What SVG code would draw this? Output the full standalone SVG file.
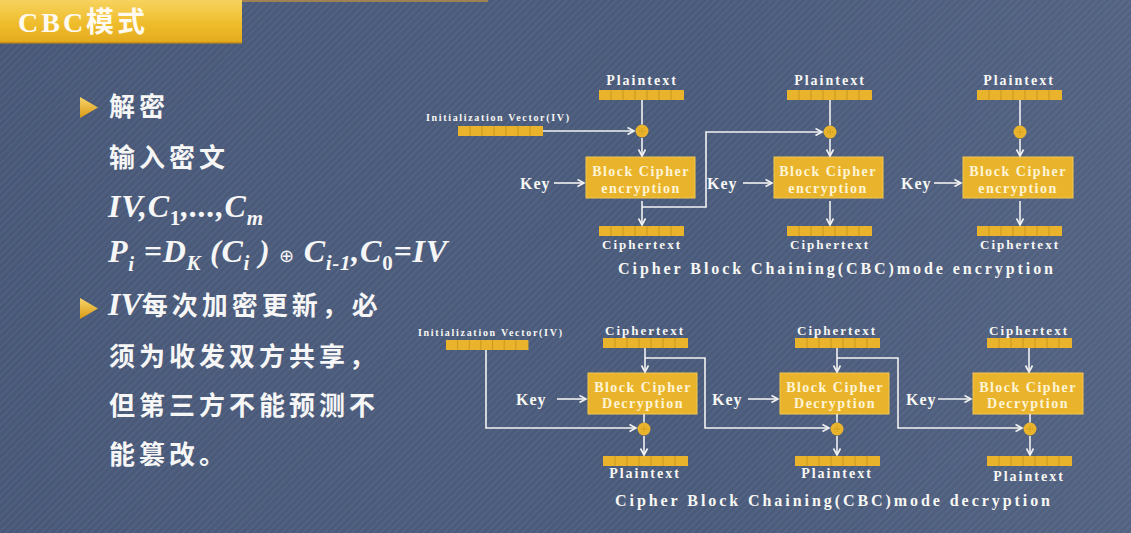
<svg xmlns="http://www.w3.org/2000/svg" xmlns:xlink="http://www.w3.org/1999/xlink" width="1131" height="533" viewBox="0 0 1131 533">
  <defs>
    <pattern id="stripes" width="5" height="5" patternUnits="userSpaceOnUse" patternTransform="rotate(45)">
      <rect width="5" height="5" fill="#4a5a79"/>
      <rect width="1.6" height="5" fill="#526386"/>
    </pattern>
    <linearGradient id="shade" x1="0" y1="0" x2="1" y2="0">
      <stop offset="0" stop-color="#000" stop-opacity="0.03"/>
      <stop offset="0.6" stop-color="#fff" stop-opacity="0"/>
      <stop offset="1" stop-color="#fff" stop-opacity="0.05"/>
    </linearGradient>
    <linearGradient id="header" x1="0" y1="0" x2="0" y2="1">
      <stop offset="0" stop-color="#f6d35e"/>
      <stop offset="0.55" stop-color="#efbd2c"/>
      <stop offset="1" stop-color="#e3a91c"/>
    </linearGradient>
    <linearGradient id="tri" x1="0" y1="0" x2="0" y2="1">
      <stop offset="0" stop-color="#f8d56a"/>
      <stop offset="1" stop-color="#d99a16"/>
    </linearGradient>
    <marker id="ah" markerUnits="userSpaceOnUse" markerWidth="10" markerHeight="10" refX="8" refY="5" orient="auto">
      <path d="M1.5,1.5 L8,5 L1.5,8.5" fill="none" stroke="#f2f2f2" stroke-width="1.6"/>
    </marker>
    <!-- segmented data block -->
    <g id="bar">
      <rect x="0" y="0" width="85" height="10" fill="#e9b42b"/>
      <path d="M12,0V10M24,0V10M36,0V10M48,0V10M60,0V10M72,0V10" stroke="#c9961f" stroke-width="1"/>
    </g>
    <!-- XOR junction -->
    <g id="xor">
      <circle r="6.5" fill="#e9b42b"/>
      <path d="M-3,0H3M0,-3V3" stroke="#c9961f" stroke-width="1" stroke-dasharray="1.5 1"/>
    </g>
    <style>
      .diag { font-family: "Liberation Serif", "DejaVu Serif", serif; font-weight: bold; fill: #f7f7f3; }
      .lbl { font-size: 14px; letter-spacing: 2px; text-anchor: middle; }
      .key { font-size: 16px; letter-spacing: 1px; }
      .iv { font-size: 10px; }
      .boxt { font-size: 14px; letter-spacing: 1.5px; text-anchor: middle; fill: #fff4d6; }
      .title { font-size: 16px; }
      .box { fill: #e9b42b; stroke: #f2c850; stroke-width: 1; }
      .ln { fill: none; stroke: #f2f2f2; stroke-width: 1.6; }
      .arr { marker-end: url(#ah); }
      .cjk { font-family: "Noto Sans CJK SC", "Noto Sans", sans-serif; font-weight: bold; font-size: 26px; letter-spacing: 4px; fill: #f6f6f6; }
      .math { font-family: "Liberation Serif", "DejaVu Serif", serif; font-weight: bold; font-style: italic; font-size: 32px; fill: #f6f6f6; }
      .sub { font-size: 21px; }
      .up { font-style: normal; }
      .op { font-family: "DejaVu Sans", sans-serif; font-weight: normal; font-style: normal; font-size: 18px; }
    </style>
  </defs>

  <!-- background -->
  <rect width="1131" height="533" fill="url(#stripes)"/>
  <rect width="1131" height="533" fill="url(#shade)"/>

  <!-- title bar -->
  <g id="header">
    <rect x="0" y="0" width="242" height="43" fill="url(#header)"/>
    <rect x="0" y="42" width="242" height="1.5" fill="#c98e16"/>
    <rect x="242" y="0" width="246" height="2" fill="#9e8254"/>
    <text x="18" y="32" font-family="Liberation Serif, Noto Sans CJK SC, serif" font-weight="bold" font-size="28" letter-spacing="3" fill="#fffaf0">CBC模式</text>
  </g>

  <!-- bullet text -->
  <g id="notes">
    <polygon points="80,97 98,107.5 80,118" fill="url(#tri)"/>
    <text class="cjk" x="109" y="116">解密</text>
    <text class="cjk" x="109" y="167">输入密文</text>
    <text class="math" x="108" y="217" textLength="155" lengthAdjust="spacing">IV,C<tspan class="sub up" dy="8">1</tspan><tspan dy="-8">,...,C</tspan><tspan class="sub" dy="8">m</tspan></text>
    <text class="math" x="108" y="262" textLength="339" lengthAdjust="spacing">P<tspan class="sub" dy="9">i</tspan><tspan dy="-9"> =D</tspan><tspan class="sub" dy="8">K</tspan><tspan dy="-8"> (C</tspan><tspan class="sub" dy="8">i</tspan><tspan dy="-8"> ) </tspan><tspan class="op">⊕</tspan><tspan> C</tspan><tspan class="sub" dy="8">i-1</tspan><tspan dy="-8">,C</tspan><tspan class="sub up" dy="8">0</tspan><tspan dy="-8">=IV</tspan></text>
    <polygon points="80,298 98,308.5 80,319" fill="url(#tri)"/>
    <text x="108" y="315"><tspan class="math" font-size="30">IV</tspan><tspan class="cjk">每次加密更新，必</tspan></text>
    <text class="cjk" x="109" y="366">须为收发双方共享，</text>
    <text class="cjk" x="109" y="415">但第三方不能预测不</text>
    <text class="cjk" x="109" y="464">能篡改。</text>
  </g>

  <!-- ===== CBC encryption ===== -->
  <g id="enc-iv" class="diag">
    <text class="iv" x="426" y="121" textLength="143" lengthAdjust="spacing">Initialization Vector(IV)</text>
    <use xlink:href="#bar" x="458" y="126"/>
  </g>
  <g id="enc-1" class="diag">
    <text class="lbl" x="642" y="85">Plaintext</text>
    <use xlink:href="#bar" x="599" y="90"/>
    <use xlink:href="#xor" x="642" y="131"/>
    <rect class="box" x="586" y="157" width="109" height="41"/>
    <text class="boxt" x="641" y="176">Block Cipher</text>
    <text class="boxt" x="641" y="193">encryption</text>
    <text class="key" x="520" y="189">Key</text>
    <use xlink:href="#bar" x="599" y="226"/>
    <text class="lbl" x="642" y="249" style="font-size:13px">Ciphertext</text>
  </g>
  <g id="enc-2" class="diag">
    <text class="lbl" x="830" y="85">Plaintext</text>
    <use xlink:href="#bar" x="787" y="90"/>
    <use xlink:href="#xor" x="830" y="132"/>
    <rect class="box" x="774" y="157" width="109" height="41"/>
    <text class="boxt" x="828" y="176">Block Cipher</text>
    <text class="boxt" x="828" y="193">encryption</text>
    <text class="key" x="707" y="189">Key</text>
    <use xlink:href="#bar" x="787" y="226"/>
    <text class="lbl" x="830" y="249" style="font-size:13px">Ciphertext</text>
  </g>
  <g id="enc-3" class="diag">
    <text class="lbl" x="1019" y="85">Plaintext</text>
    <use xlink:href="#bar" x="977" y="90"/>
    <use xlink:href="#xor" x="1020" y="132"/>
    <rect class="box" x="963" y="157" width="110" height="41"/>
    <text class="boxt" x="1018" y="176">Block Cipher</text>
    <text class="boxt" x="1018" y="193">encryption</text>
    <text class="key" x="901" y="189">Key</text>
    <use xlink:href="#bar" x="977" y="226"/>
    <text class="lbl" x="1020" y="249" style="font-size:13px">Ciphertext</text>
  </g>
  <text class="diag title" x="618" y="274" textLength="435" lengthAdjust="spacing">Cipher Block Chaining(CBC)mode encryption</text>

  <!-- ===== CBC decryption ===== -->
  <g id="dec-iv" class="diag">
    <text class="iv" x="418" y="336" textLength="144" lengthAdjust="spacing">Initialization Vector(IV)</text>
    <use xlink:href="#bar" x="446" y="340" transform="translate(446 340) scale(0.97 1) translate(-446 -340)"/>
  </g>
  <g id="dec-1" class="diag">
    <text class="lbl" x="645" y="335" style="font-size:13px">Ciphertext</text>
    <use xlink:href="#bar" x="603" y="338"/>
    <rect class="box" x="588" y="373" width="109" height="41"/>
    <text class="boxt" x="643" y="392">Block Cipher</text>
    <text class="boxt" x="643" y="408">Decryption</text>
    <text class="key" x="516" y="405">Key</text>
    <use xlink:href="#xor" x="644" y="429"/>
    <use xlink:href="#bar" x="603" y="456"/>
    <text class="lbl" x="645" y="478">Plaintext</text>
  </g>
  <g id="dec-2" class="diag">
    <text class="lbl" x="837" y="335" style="font-size:13px">Ciphertext</text>
    <use xlink:href="#bar" x="795" y="338"/>
    <rect class="box" x="780" y="373" width="109" height="41"/>
    <text class="boxt" x="835" y="392">Block Cipher</text>
    <text class="boxt" x="835" y="408">Decryption</text>
    <text class="key" x="712" y="405">Key</text>
    <use xlink:href="#xor" x="837" y="429"/>
    <use xlink:href="#bar" x="795" y="456"/>
    <text class="lbl" x="837" y="478">Plaintext</text>
  </g>
  <g id="dec-3" class="diag">
    <text class="lbl" x="1029" y="335" style="font-size:13px">Ciphertext</text>
    <use xlink:href="#bar" x="987" y="338"/>
    <rect class="box" x="973" y="373" width="110" height="41"/>
    <text class="boxt" x="1028" y="392">Block Cipher</text>
    <text class="boxt" x="1028" y="408">Decryption</text>
    <text class="key" x="906" y="405">Key</text>
    <use xlink:href="#xor" x="1030" y="429"/>
    <use xlink:href="#bar" x="987" y="456"/>
    <text class="lbl" x="1029" y="481">Plaintext</text>
  </g>
  <text class="diag title" x="615" y="506" textLength="435" lengthAdjust="spacing">Cipher Block Chaining(CBC)mode decryption</text>

  <!-- connectors -->
  <g id="connectors">
    <!-- encryption -->
    <path class="ln arr" d="M543,131 H634"/>
    <path class="ln" d="M642,100 V124.5"/>
    <path class="ln arr" d="M642,138 V156"/>
    <path class="ln arr" d="M554,183 H584"/>
    <path class="ln arr" d="M642,201 V225"/>
    <path class="ln arr" d="M642,207 H706 V132 H822"/>
    <path class="ln" d="M830,100 V125.5"/>
    <path class="ln arr" d="M830,139 V156"/>
    <path class="ln arr" d="M743,183 H772"/>
    <path class="ln arr" d="M830,201 V225"/>
    <path class="ln" d="M1020,100 V125.5"/>
    <path class="ln arr" d="M1020,139 V156"/>
    <path class="ln arr" d="M934,183 H961"/>
    <path class="ln arr" d="M1020,201 V225"/>
    <!-- decryption -->
    <path class="ln arr" d="M486,350 V428 H636"/>
    <path class="ln arr" d="M645,348 V372"/>
    <path class="ln arr" d="M557,399 H586"/>
    <path class="ln" d="M644,414 V422.5"/>
    <path class="ln arr" d="M644,436 V455"/>
    <path class="ln arr" d="M645,358 H705 V428 H829"/>
    <path class="ln arr" d="M837,348 V372"/>
    <path class="ln arr" d="M748,399 H778"/>
    <path class="ln" d="M837,414 V422.5"/>
    <path class="ln arr" d="M837,436 V455"/>
    <path class="ln arr" d="M837,358 H898 V428 H1022"/>
    <path class="ln arr" d="M1029,348 V372"/>
    <path class="ln arr" d="M938,399 H971"/>
    <path class="ln" d="M1030,414 V422.5"/>
    <path class="ln arr" d="M1030,436 V455"/>
  </g>
</svg>
